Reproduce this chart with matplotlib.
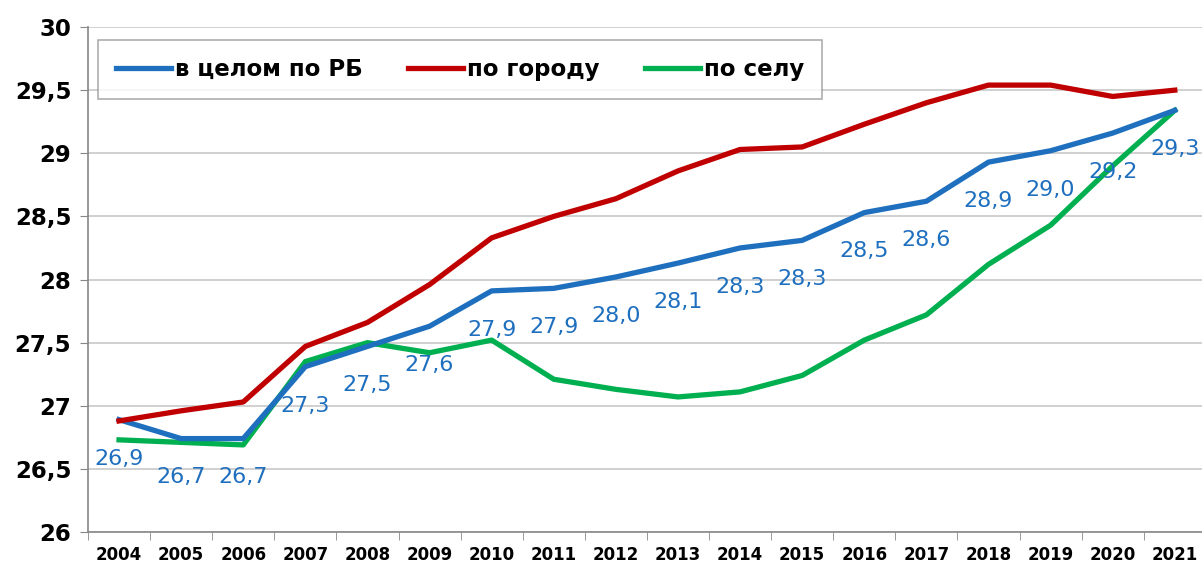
import numpy as np
import matplotlib.pyplot as plt

years = [str(y) for y in range(2004, 2022)]
rb = [26.89, 26.74, 26.74, 27.31, 27.47, 27.63, 27.91, 27.93, 28.02, 28.13,
      28.25, 28.31, 28.53, 28.62, 28.93, 29.02, 29.16, 29.34]
city = [26.88, 26.96, 27.03, 27.47, 27.66, 27.96, 28.33, 28.50, 28.64, 28.86,
        29.03, 29.05, 29.23, 29.40, 29.54, 29.54, 29.45, 29.50]
village = [26.73, 26.71, 26.69, 27.35, 27.50, 27.42, 27.52, 27.21, 27.13, 27.07,
           27.11, 27.24, 27.52, 27.72, 28.12, 28.43, 28.90, 29.34]
rb_labels = ["26,9", "26,7", "26,7", "27,3", "27,5", "27,6", "27,9", "27,9", "28,0",
             "28,1", "28,3", "28,3", "28,5", "28,6", "28,9", "29,0", "29,2", "29,3"]

blue = "#1f6fbf"
red = "#c00000"
green = "#00b050"

fig = plt.figure(figsize=(12.02, 5.69), dpi=100)
ax = fig.add_axes([0.0732, 0.065, 0.93, 0.8875])
x = np.arange(len(years))

ax.plot(x, rb, color=blue, lw=3.8, label="в целом по РБ", zorder=3)
ax.plot(x, city, color=red, lw=3.8, label="по городу", zorder=3)
ax.plot(x, village, color=green, lw=3.8, label="по селу", zorder=2)

# подписи значений под синей линией
for xi, yi, s in zip(x, rb, rb_labels):
    ax.annotate(s, (xi, yi), xytext=(0, -28), textcoords="offset points",
                ha="center", va="center", color=blue, fontsize=16, zorder=4)

ax.set_xlim(-0.5, 17.5)
ax.set_ylim(26, 30)
ax.set_yticks(np.arange(26, 30.01, 0.5))
ax.set_yticklabels(["26", "26,5", "27", "27,5", "28", "28,5", "29", "29,5", "30"],
                   fontsize=16.5, fontweight="bold")
ax.set_xticks(x)
ax.set_xticklabels(years, fontsize=12, fontweight="bold")
ax.set_xticks(np.arange(-0.5, 17.6, 1), minor=True)
ax.tick_params(axis="x", which="major", length=0, pad=10)
ax.tick_params(axis="x", which="minor", length=6, color="#888888")
ax.tick_params(axis="y", length=6, color="#888888", pad=6)

ax.grid(axis="y", color="#c8c8c8", lw=1.2)
ax.set_axisbelow(True)
for side in ["top", "right"]:
    ax.spines[side].set_visible(False)
for side in ["left", "bottom"]:
    ax.spines[side].set_color("#888888")
    ax.spines[side].set_linewidth(1.2)

leg = ax.legend(loc="upper left", bbox_to_anchor=(0.009, 0.975), ncol=3,
                prop={"weight": "bold", "size": 16.5},
                frameon=True, fancybox=False, handlelength=2.4, handletextpad=0.15,
                columnspacing=2.0, borderpad=0.8, borderaxespad=0)
leg.get_frame().set_edgecolor("#999999")
leg.get_frame().set_linewidth(1.2)

plt.savefig("out.png", dpi=100)
